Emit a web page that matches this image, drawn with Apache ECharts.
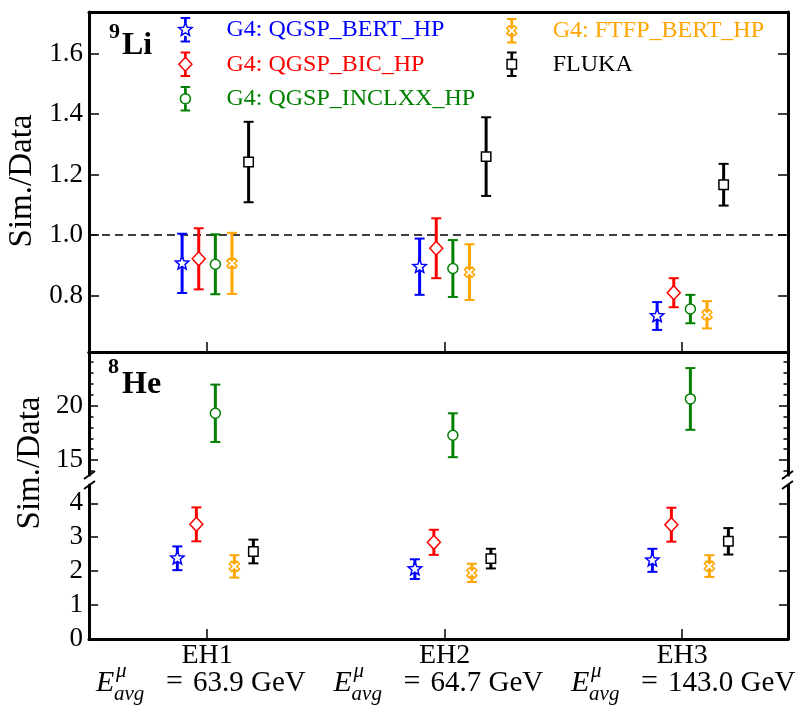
<!DOCTYPE html>
<html>
<head>
<meta charset="utf-8">
<script src="https://cdn.jsdelivr.net/npm/echarts@6/dist/echarts.min.js"></script>
<style>
html, body { margin: 0; padding: 0; background: #fff; }
#main { width: 800px; height: 705px; }
</style>
</head>
<body>
<div id="main"></div>
<script>
// stations and mean muon energies
const stations = ['EH1', 'EH2', 'EH3'];
const stationPos = [1, 2, 3];
const energies = ['63.9', '64.7', '143.0'];

const models = ['G4: QGSP_BERT_HP', 'G4: QGSP_BIC_HP', 'G4: QGSP_INCLXX_HP', 'G4: FTFP_BERT_HP', 'FLUKA'];

// 9Li  Sim./Data
const li9Bert = [0.906, 0.895, 0.732];
const li9BertErr = [0.098, 0.093, 0.046];
const li9Bic = [0.921, 0.956, 0.809];
const li9BicErr = [0.101, 0.099, 0.048];
const li9Inclxx = [0.903, 0.889, 0.755];
const li9InclxxErr = [0.099, 0.094, 0.047];
const li9Ftfp = [0.906, 0.877, 0.736];
const li9FtfpErr = [0.101, 0.092, 0.045];
const li9Fluka = [1.241, 1.259, 1.166];
const li9FlukaErr = [0.133, 0.130, 0.069];

// 8He  Sim./Data
const he8Bert = [2.38, 2.06, 2.32];
const he8BertErr = [0.35, 0.29, 0.34];
const he8Bic = [3.38, 2.85, 3.37];
const he8BicErr = [0.50, 0.37, 0.50];
const he8Inclxx = [19.30, 17.28, 20.62];
const he8InclxxErr = [2.64, 2.02, 2.84];
const he8Ftfp = [2.14, 1.95, 2.15];
const he8FtfpErr = [0.33, 0.27, 0.32];
const he8Fluka = [2.58, 2.37, 2.88];
const he8FlukaErr = [0.35, 0.29, 0.39];

// axis ticks
const li9Ticks = [0.8, 1.0, 1.2, 1.4, 1.6];
const he8HighTicks = [15, 20];
const he8HighMinor = [14, 16, 17, 18, 19, 21, 22, 23, 24];
const he8LowTicks = [0, 1, 2, 3, 4];

const li9Values = [li9Bert, li9Bic, li9Inclxx, li9Ftfp, li9Fluka];
const li9Errors = [li9BertErr, li9BicErr, li9InclxxErr, li9FtfpErr, li9FlukaErr];
const he8Values = [he8Bert, he8Bic, he8Inclxx, he8Ftfp, he8Fluka];
const he8Errors = [he8BertErr, he8BicErr, he8InclxxErr, he8FtfpErr, he8FlukaErr];

const SERIF = "'Liberation Serif', 'DejaVu Serif', serif";
const colors = ['#0000ff', '#ff0000', '#008000', '#ffa500', '#000000'];
const markers = ['star', 'diamond', 'circle', 'cross', 'square'];
const topOffsets = [-0.105, -0.035, 0.035, 0.105, 0.175];
const botOffsets = [-0.125, -0.045, 0.035, 0.115, 0.195];
const breakAt = 10; // 8He values above this sit on the upper part of the broken axis

function markerPoints(kind) {
  const pts = [];
  if (kind === 'star') {
    for (let k = 0; k < 10; k++) {
      const a = -Math.PI / 2 + k * Math.PI / 5;
      const r = k % 2 ? 3.1 : 7;
      pts.push([r * Math.cos(a), r * Math.sin(a)]);
    }
  } else if (kind === 'diamond') {
    pts.push([0, -7], [6.5, 0], [0, 7], [-6.5, 0]);
  } else if (kind === 'circle') {
    for (let k = 0; k < 24; k++) {
      const a = k * Math.PI / 12;
      pts.push([5 * Math.cos(a), 5 * Math.sin(a)]);
    }
  } else if (kind === 'cross') {
    const t = 1.7, L = 5.4;
    const plus = [[-t, -L], [t, -L], [t, -t], [L, -t], [L, t], [t, t], [t, L], [-t, L], [-t, t], [-L, t], [-L, -t], [-t, -t]];
    const c = Math.cos(Math.PI / 4), s = Math.sin(Math.PI / 4);
    plus.forEach(p => pts.push([p[0] * c - p[1] * s, p[0] * s + p[1] * c]));
  } else {
    pts.push([-4.7, -4.7], [4.7, -4.7], [4.7, 4.7], [-4.7, 4.7]);
  }
  return pts;
}

function markerElement(kind, c, color) {
  const style = { fill: '#fff', stroke: color, lineWidth: 1.5 };
  if (kind === 'circle') {
    return { type: 'circle', shape: { cx: c[0], cy: c[1], r: 5 }, style: style };
  }
  return {
    type: 'polygon',
    shape: { points: markerPoints(kind).map(p => [c[0] + p[0], c[1] + p[1]]) },
    style: style
  };
}

function makeRenderer(color, kind, offset) {
  return function (params, api) {
    const x = api.value(0) + offset;
    const y = api.value(1);
    const err = api.value(2);
    const mid = api.coord([x, y]);
    const hi = api.coord([x, y + err]);
    const lo = api.coord([x, y - err]);
    const cap = 5;
    const barStyle = { stroke: color, lineWidth: 3 };
    const capStyle = { stroke: color, lineWidth: 2 };
    return {
      type: 'group',
      children: [
        { type: 'line', shape: { x1: mid[0], y1: hi[1], x2: mid[0], y2: lo[1] }, style: barStyle },
        { type: 'line', shape: { x1: mid[0] - cap, y1: hi[1], x2: mid[0] + cap, y2: hi[1] }, style: capStyle },
        { type: 'line', shape: { x1: mid[0] - cap, y1: lo[1], x2: mid[0] + cap, y2: lo[1] }, style: capStyle },
        markerElement(kind, mid, color)
      ]
    };
  };
}

// legend glyph: error bar with hollow marker, drawn as outline path
function rectPath(x0, y0, x1, y1) {
  return 'M' + x0 + ' ' + y0 + 'L' + x1 + ' ' + y0 + 'L' + x1 + ' ' + y1 + 'L' + x0 + ' ' + y1 + 'Z';
}
function legendIcon(kind) {
  const cx = 7, cy = 12;
  const pts = markerPoints(kind);
  const half = Math.max.apply(null, pts.map(p => Math.abs(p[1])));
  let d = 'path://';
  d += rectPath(cx - 0.6, 0.6, cx + 0.6, cy - half);
  d += rectPath(cx - 0.6, cy + half, cx + 0.6, 23.4);
  d += rectPath(cx - 4, 0, cx + 4, 0.6);
  d += rectPath(cx - 4, 23.4, cx + 4, 24);
  d += 'M' + pts.map(p => (cx + p[0]).toFixed(2) + ' ' + (cy + p[1]).toFixed(2)).join('L') + 'Z';
  return d;
}

function rows(values, errors, keep) {
  const out = [];
  stationPos.forEach(function (x, i) {
    if (keep(values[i])) out.push([x, values[i], errors[i]]);
  });
  return out;
}

const series = [];
models.forEach(function (name, m) {
  series.push({
    name: name, type: 'custom', xAxisIndex: 0, yAxisIndex: 0,
    itemStyle: { color: colors[m] },
    renderItem: makeRenderer(colors[m], markers[m], topOffsets[m]),
    data: rows(li9Values[m], li9Errors[m], () => true),
    z: 3
  });
  series.push({
    name: name, type: 'custom', xAxisIndex: 1, yAxisIndex: 2,
    itemStyle: { color: colors[m] },
    renderItem: makeRenderer(colors[m], markers[m], botOffsets[m]),
    data: rows(he8Values[m], he8Errors[m], v => v > breakAt),
    z: 3
  });
  series.push({
    name: name, type: 'custom', xAxisIndex: 2, yAxisIndex: 6,
    itemStyle: { color: colors[m] },
    renderItem: makeRenderer(colors[m], markers[m], botOffsets[m]),
    data: rows(he8Values[m], he8Errors[m], v => v <= breakAt),
    z: 3
  });
});
// reference line at ratio 1
series[0].markLine = {
  silent: true, symbol: 'none', animation: false,
  label: { show: false },
  lineStyle: { color: '#000', width: 1.5, type: [8, 5] },
  data: [{ yAxis: 1 }],
  z: 1
};

const frame = { show: true, onZero: false, lineStyle: { color: '#000', width: 3 } };
const labelFont = { color: '#000', fontFamily: SERIF, fontSize: 27, margin: 6 };
const xRange = { min: 0.503, max: 3.446 };

function yAxis(grid, pos, range, ticks, len, labels, line) {
  return Object.assign({
    type: 'value', gridIndex: grid, position: pos,
    axisLine: line ? frame : { show: false },
    axisTick: { show: true, inside: true, length: len, customValues: ticks, lineStyle: { color: '#000', width: 1.5 } },
    axisLabel: labels ? Object.assign({ customValues: ticks, formatter: labels }, labelFont) : { show: false },
    splitLine: { show: false }
  }, range);
}

const li9Range = { min: 0.613, max: 1.737 };
const highRange = { min: 13.62, max: 24.94 };
const lowRange = { min: 0, max: 4.54 };

function legendBlock(left, top, gap, idx) {
  return {
    left: left, top: top, orient: 'vertical', itemGap: gap, padding: 0,
    itemWidth: 14, itemHeight: 24,
    textStyle: { fontFamily: SERIF, fontSize: 24, padding: [0, 0, 0, 29] },
    selectedMode: false,
    data: idx.map(m => ({
      name: models[m], icon: legendIcon(markers[m]),
      itemStyle: { color: '#fff', borderColor: colors[m], borderWidth: 1.5 },
      textStyle: { color: colors[m] }
    }))
  };
}

const option = {
  animation: false,
  backgroundColor: '#fff',
  legend: [legendBlock(178, 17, 9, [0, 1, 2]), legendBlock(506, 18, 8, [3, 4])],
  grid: [
    { left: 89, right: 12, top: 12, height: 340 },
    { left: 89, right: 12, top: 352, height: 123 },
    { left: 89, right: 12, top: 485, height: 154 }
  ],
  xAxis: [
    Object.assign({ type: 'value', gridIndex: 0, position: 'bottom', axisLine: frame,
      axisTick: { inside: true, length: 10, customValues: stationPos, lineStyle: { color: '#000', width: 1.5 } },
      axisLabel: { show: false }, splitLine: { show: false } }, xRange),
    Object.assign({ type: 'value', gridIndex: 1, position: 'top', axisLine: frame,
      axisTick: { show: false }, axisLabel: { show: false }, splitLine: { show: false } }, xRange),
    Object.assign({ type: 'value', gridIndex: 2, position: 'bottom', axisLine: frame,
      axisTick: { inside: true, length: 10, customValues: stationPos, lineStyle: { color: '#000', width: 1.5 } },
      axisLabel: { customValues: stationPos, formatter: v => stations[stationPos.indexOf(v)],
        color: '#000', fontFamily: SERIF, fontSize: 28, margin: 3 },
      splitLine: { show: false } }, xRange),
    Object.assign({ type: 'value', gridIndex: 0, position: 'top', axisLine: frame,
      axisTick: { show: false }, axisLabel: { show: false }, splitLine: { show: false } }, xRange)
  ],
  yAxis: [
    yAxis(0, 'left', li9Range, li9Ticks, 10, v => v.toFixed(1), true),
    yAxis(0, 'right', li9Range, li9Ticks, 10, null, true),
    yAxis(1, 'left', highRange, he8HighTicks, 9, v => String(v), true),
    yAxis(1, 'left', highRange, he8HighMinor, 4.5, null, false),
    yAxis(1, 'right', highRange, he8HighTicks, 9, null, true),
    yAxis(1, 'right', highRange, he8HighMinor, 4.5, null, false),
    yAxis(2, 'left', lowRange, he8LowTicks, 9, v => String(v), true),
    yAxis(2, 'right', lowRange, he8LowTicks, 9, null, true)
  ],
  series: series
};

const chart = echarts.init(document.getElementById('main'), null, { renderer: 'canvas' });
chart.setOption(option);

// text decorations: panel tags, y titles, axis break marks, energy labels
const bold = { fontFamily: SERIF, fontWeight: 'bold', fill: '#000', verticalAlign: 'middle' };
const yTitle = { text: 'Sim./Data', fontFamily: SERIF, fontSize: 33, fill: '#000', align: 'center', verticalAlign: 'middle' };
const graphics = [
  { type: 'text', x: 109, y: 32, style: Object.assign({ text: '9', fontSize: 22 }, bold) },
  { type: 'text', x: 122, y: 46, style: Object.assign({ text: 'Li', fontSize: 32 }, bold) },
  { type: 'text', x: 108, y: 367, style: Object.assign({ text: '8', fontSize: 22 }, bold) },
  { type: 'text', x: 122, y: 385, style: Object.assign({ text: 'He', fontSize: 32 }, bold) },
  { type: 'text', x: 22, y: 181, rotation: Math.PI / 2, style: yTitle },
  { type: 'text', x: 30, y: 463, rotation: Math.PI / 2, style: yTitle }
];
[[84, 95], [782, 793]].forEach(function (xs) {
  [[479, 471], [489, 481]].forEach(function (ys) {
    graphics.push({ type: 'line', z: 10, shape: { x1: xs[0], y1: ys[0], x2: xs[1], y2: ys[1] },
      style: { stroke: '#000', lineWidth: 2 } });
  });
});
stationPos.forEach(function (v, i) {
  const x0 = chart.convertToPixel({ xAxisIndex: 2 }, v);
  const it = { fontFamily: SERIF, fontStyle: 'italic', fill: '#000', verticalAlign: 'middle' };
  const rm = { fontFamily: SERIF, fill: '#000', verticalAlign: 'middle' };
  graphics.push(
    { type: 'text', x: x0 - 111, y: 683, style: Object.assign({ text: 'E', fontSize: 30 }, it) },
    { type: 'text', x: x0 - 91, y: 671, style: Object.assign({ text: 'μ', fontSize: 21 }, it) },
    { type: 'text', x: x0 - 93, y: 694, style: Object.assign({ text: 'avg', fontSize: 21 }, it) },
    { type: 'text', x: x0 - 41, y: 682, style: Object.assign({ text: '=', fontSize: 30 }, rm) },
    { type: 'text', x: x0 - 14, y: 683, style: Object.assign({ text: energies[i] + ' GeV', fontSize: 29 }, rm) }
  );
});
chart.setOption({ graphic: graphics });
</script>
</body>
</html>
